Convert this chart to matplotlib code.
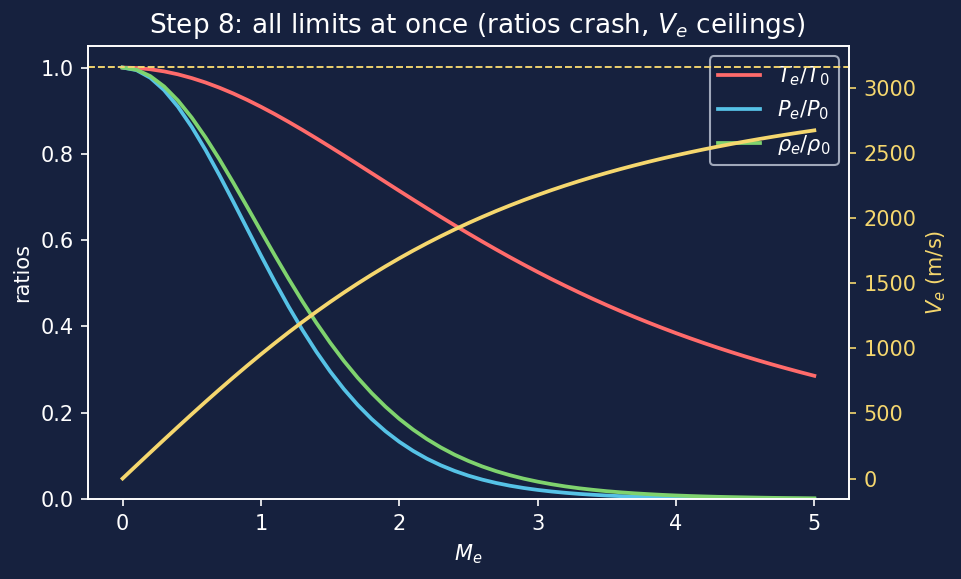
import matplotlib
matplotlib.use("Agg")
import matplotlib.pyplot as plt

# exit Mach number samples
mach = [0.0, 0.1, 0.2, 0.3, 0.4, 0.5, 0.6, 0.7, 0.8, 0.9,
        1.0, 1.1, 1.2, 1.3, 1.4, 1.5, 1.6, 1.7, 1.8, 1.9,
        2.0, 2.1, 2.2, 2.3, 2.4, 2.5, 2.6, 2.7, 2.8, 2.9,
        3.0, 3.1, 3.2, 3.3, 3.4, 3.5, 3.6, 3.7, 3.8, 3.9,
        4.0, 4.1, 4.2, 4.3, 4.4, 4.5, 4.6, 4.7, 4.8, 4.9, 5.0]
t_ratio = [1.0, 0.9990, 0.9960, 0.9911, 0.9843, 0.9756, 0.9653, 0.9533, 0.9399, 0.9251,
           0.9091, 0.8921, 0.8741, 0.8554, 0.8361, 0.8163, 0.7962, 0.7758, 0.7553, 0.7348,
           0.7143, 0.6940, 0.6739, 0.6540, 0.6345, 0.6154, 0.5967, 0.5784, 0.5605, 0.5432,
           0.5263, 0.5099, 0.4941, 0.4787, 0.4638, 0.4494, 0.4355, 0.4221, 0.4092, 0.3967,
           0.3846, 0.3730, 0.3618, 0.3510, 0.3406, 0.3306, 0.3209, 0.3116, 0.3027, 0.2940, 0.2857]
p_ratio = [1.0, 0.9940, 0.9763, 0.9477, 0.9092, 0.8623, 0.8088, 0.7505, 0.6892, 0.6267,
           0.5645, 0.5039, 0.4461, 0.3919, 0.3417, 0.2959, 0.2547, 0.2180, 0.1856, 0.1573,
           0.1328, 0.1117, 0.0936, 0.0783, 0.0653, 0.0543, 0.0451, 0.0374, 0.0310, 0.0257,
           0.0213, 0.0176, 0.0146, 0.0120, 0.0100, 0.0082, 0.0068, 0.0057, 0.0047, 0.0039,
           0.0032, 0.0027, 0.0022, 0.0019, 0.0016, 0.0013, 0.0011, 0.0009, 0.0008, 0.0007, 0.0005]
rho_ratio = [1.0, 0.9950, 0.9802, 0.9562, 0.9237, 0.8839, 0.8379, 0.7873, 0.7333, 0.6774,
             0.6209, 0.5649, 0.5104, 0.4581, 0.4087, 0.3625, 0.3199, 0.2810, 0.2458, 0.2142,
             0.1859, 0.1610, 0.1390, 0.1197, 0.1028, 0.0883, 0.0756, 0.0647, 0.0554, 0.0473,
             0.0404, 0.0345, 0.0294, 0.0251, 0.0215, 0.0183, 0.0157, 0.0134, 0.0115, 0.0098,
             0.0084, 0.0072, 0.0062, 0.0053, 0.0046, 0.0040, 0.0034, 0.0029, 0.0025, 0.0022, 0.0019]
v_exit = [0.0, 100.0, 199.6, 298.7, 396.8, 493.9, 589.5, 683.5, 775.6, 865.6,
          953.5, 1038.9, 1121.9, 1202.4, 1280.2, 1355.3, 1427.7, 1497.3, 1564.3, 1628.6,
          1690.3, 1749.4, 1805.9, 1860.0, 1911.8, 1961.2, 2008.3, 2053.4, 2096.3, 2137.3,
          2176.4, 2213.7, 2249.3, 2283.2, 2315.6, 2346.4, 2375.8, 2403.9, 2430.7, 2456.3,
          2480.7, 2504.0, 2526.3, 2547.5, 2567.9, 2587.3, 2605.9, 2623.7, 2640.7, 2657.0, 2672.6]
v_ceiling = 3162.3

bg = '#16213e'
c_t = '#ff6b6b'
c_p = '#56c2e6'
c_rho = '#7fd36e'
c_v = '#f5d76e'

fig = plt.figure(figsize=(6.413, 3.86), dpi=150, facecolor=bg)
ax1 = fig.add_axes([0.0915, 0.138, 0.791, 0.7826])
ax1.set_facecolor(bg)

ax1.plot(mach, t_ratio, color=c_t, lw=1.8, label=r'$T_e/T_0$')
ax1.plot(mach, p_ratio, color=c_p, lw=1.8, label=r'$P_e/P_0$')
ax1.plot(mach, rho_ratio, color=c_rho, lw=1.8, label=r'$\rho_e/\rho_0$')
ax1.set_ylim(0, 1.05)
ax1.set_xlabel(r'$M_e$', color='white')
ax1.set_ylabel('ratios', color='white')
ax1.set_title(r'Step 8: all limits at once (ratios crash, $V_e$ ceilings)',
              color='white', fontsize=12.6, x=0.511)
ax1.tick_params(colors='white')
for s in ax1.spines.values():
    s.set_color('white')

ax2 = ax1.twinx()
ax2.plot(mach, v_exit, color=c_v, lw=1.8)
ax2.axhline(v_ceiling, color=c_v, ls='--', lw=0.9)
ax2.set_ylabel(r'$V_e$ (m/s)', color=c_v)
ax2.tick_params(axis='y', colors=c_v)
for s in ax2.spines.values():
    s.set_color('white')

leg = ax1.legend(loc='upper right', facecolor=bg, edgecolor='#b0b8c8',
                 labelcolor='white')
leg.get_frame().set_alpha(0.9)

fig.savefig('out.png', dpi=150, facecolor=bg)
